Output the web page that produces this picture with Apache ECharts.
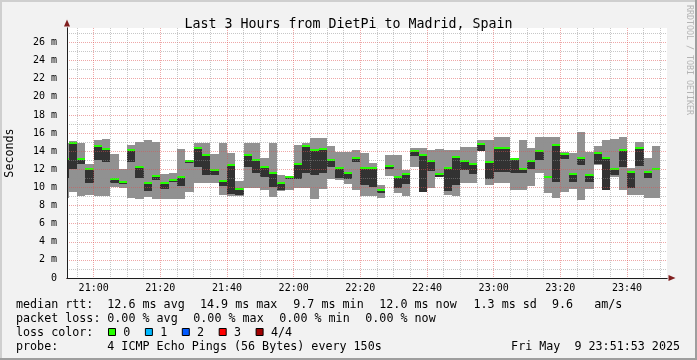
<!DOCTYPE html>
<html><head><meta charset="utf-8">
<script src="https://cdn.jsdelivr.net/npm/echarts@6/dist/echarts.min.js"></script>
<style>html,body{margin:0;padding:0;background:#f2f2f2}#c{width:697px;height:360px}</style>
</head><body><div id="c"></div>
<script>
// ---- data (step end times, 150 s steps) ----
const stepEnds = ['20:52:30','20:55:00','20:57:30','21:00:00','21:02:30','21:05:00','21:07:30','21:10:00','21:12:30','21:15:00','21:17:30','21:20:00',
'21:22:30','21:25:00','21:27:30','21:30:00','21:32:30','21:35:00','21:37:30','21:40:00','21:42:30','21:45:00','21:47:30','21:50:00',
'21:52:30','21:55:00','21:57:30','22:00:00','22:02:30','22:05:00','22:07:30','22:10:00','22:12:30','22:15:00','22:17:30','22:20:00',
'22:22:30','22:25:00','22:27:30','22:30:00','22:32:30','22:35:00','22:37:30','22:40:00','22:42:30','22:45:00','22:47:30','22:50:00',
'22:52:30','22:55:00','22:57:30','23:00:00','23:02:30','23:05:00','23:07:30','23:10:00','23:12:30','23:15:00','23:17:30','23:20:00',
'23:22:30','23:25:00','23:27:30','23:30:00','23:32:30','23:35:00','23:37:30','23:40:00','23:42:30','23:45:00','23:47:30','23:50:00'];
// values in ms
const rttMax = [14.9,15.1,14.9,12.6,15.2,15.35,13.7,12.0,14.7,15.0,15.2,15.0,
11.5,11.6,14.2,13.0,14.9,14.9,13.7,14.9,13.8,10.7,14.9,14.9,
13.2,14.9,11.4,11.2,14.7,14.9,15.5,15.5,14.6,13.95,13.9,14.1,
13.8,12.7,10.3,13.6,13.6,11.9,14.4,14.3,14.1,14.2,14.1,14.1,
14.5,14.5,15.2,15.2,15.6,15.6,13.3,15.2,14.3,15.6,15.6,15.6,
13.9,13.8,16.1,13.9,14.6,15.2,15.4,15.6,12.1,15.0,13.2,14.6];
const rttUpper = [13.1,14.9,13.1,12.0,14.6,14.2,10.9,10.6,14.1,12.2,10.5,11.3,
10.5,10.8,11.2,12.9,14.3,13.6,11.9,10.7,12.5,9.8,13.6,13.0,
12.2,11.6,10.5,11.1,12.6,14.6,14.1,14.2,13.0,12.1,11.6,13.2,
12.1,12.1,9.7,12.4,11.1,11.5,14.0,13.6,12.9,11.5,12.1,13.4,
12.9,12.6,14.8,12.8,14.3,14.4,13.1,12.0,12.9,14.0,11.2,14.7,
13.7,11.5,13.3,11.4,13.8,13.3,12.0,14.1,11.7,14.4,11.7,12.0];
const rttMedian = [13.1,14.95,13.1,12.0,14.6,14.2,10.9,10.6,14.1,12.2,10.5,11.3,
10.5,10.8,11.2,12.9,14.3,13.6,11.9,10.7,12.5,9.8,13.6,13.0,
12.2,11.6,10.5,11.1,12.6,14.6,14.1,14.2,13.0,12.1,11.6,13.2,
12.1,12.1,9.7,12.4,11.1,11.5,14.0,13.6,12.9,11.5,12.1,13.4,
12.9,12.6,14.8,12.8,14.3,14.4,13.1,12.0,12.9,14.0,11.2,14.7,
13.7,11.5,13.3,11.4,13.8,13.3,12.0,14.1,11.7,14.4,11.7,12.0];
const rttLower = [11.0,12.0,12.6,10.5,13.0,12.8,10.5,10.4,12.8,11.0,9.65,10.8,
9.8,10.6,10.2,12.7,12.3,11.4,11.4,10.2,9.25,9.2,12.2,11.6,
11.1,10.0,9.7,10.9,10.9,11.6,11.4,11.6,12.3,11.0,10.9,12.8,
10.3,10.1,9.4,12.0,9.9,10.4,13.5,9.5,11.8,11.2,9.6,10.3,
11.9,11.5,14.0,10.9,11.7,11.7,11.6,11.6,12.0,13.0,11.0,10.6,
13.1,10.6,12.5,10.6,12.6,9.7,11.4,12.3,9.9,12.4,11.0,11.9];
const rttMin = [8.8,9.5,9.1,9.2,9.1,9.1,10.0,9.9,8.8,8.7,8.9,8.7,
8.7,8.7,8.7,9.5,10.5,10.5,10.5,9.2,9.1,9.0,9.9,9.9,
9.7,8.9,9.6,9.7,9.9,9.9,8.7,9.8,10.9,10.8,10.4,9.7,
9.1,9.0,8.8,11.3,9.4,9.0,12.2,9.5,9.9,11.2,9.2,9.0,
10.5,10.5,14.0,10.3,10.5,10.5,9.7,9.7,10.2,11.6,9.4,8.8,
9.5,9.8,8.6,9.8,12.5,9.7,11.2,9.7,9.2,9.2,8.8,8.8];
const xTickLabels = ['21:00','21:20','21:40','22:00','22:20','22:40','23:00','23:20','23:40'];
const yTickLabels = [0,2,4,6,8,10,12,14,16,18,20,22,24,26];

// ---- helpers ----
const toMin = s => { const p = s.split(':').map(Number); return p[0]*60 + p[1] + (p[2]||0)/60; };
const fmtMin = v => { const h = Math.floor(v/60), m = Math.round(v - h*60); return String(h).padStart(2,'0') + ':' + String(m).padStart(2,'0'); };
const STEP = 2.5;
const X_MIN = toMin('20:52'), X_MAX = toMin('23:52');
const majorX = xTickLabels.map(toMin);
const minorX = [];
for (let v = Math.ceil(X_MIN/5)*5; v <= X_MAX; v += 5) if (majorX.indexOf(v) < 0) minorX.push(v);
const majorY = yTickLabels.filter(v => v > 0);
const minorY = yTickLabels.map(v => v + 1);
const MONO = '"DejaVu Sans Mono", monospace';

const C_SMOKE = '#919191', C_CORE = '#323232', C_MED = '#26ff00';

function bandSeries(lo, hi, color, z) {
  return {
    type: 'custom', z, silent: true, animation: false, clip: true,
    data: stepEnds.map((t, i) => [toMin(t), lo[i], hi[i]]),
    renderItem: (params, api) => {
      const t = api.value(0);
      const a = api.coord([t - STEP, api.value(2)]);
      const b = api.coord([t, api.value(1)]);
      const cs = params.coordSys;
      const x0 = Math.round(Math.max(a[0], cs.x)), x1 = Math.round(Math.min(b[0], cs.x + cs.width));
      const y0 = Math.round(a[1]), y1 = Math.round(b[1]);
      if (x1 <= x0) return null;
      return { type: 'rect', shape: { x: x0, y: y0, width: x1 - x0, height: Math.max(1, y1 - y0) }, style: { fill: color } };
    }
  };
}
function medianSeries() {
  return {
    type: 'custom', z: 4, silent: true, animation: false,
    data: stepEnds.map((t, i) => [toMin(t), rttMedian[i]]),
    renderItem: (params, api) => {
      const t = api.value(0);
      const a = api.coord([t - STEP, api.value(1)]);
      const b = api.coord([t, api.value(1)]);
      const cs = params.coordSys;
      const x0 = Math.round(Math.max(a[0], cs.x)), x1 = Math.round(Math.min(b[0], cs.x + cs.width));
      if (x1 <= x0) return null;
      return { type: 'rect', shape: { x: x0, y: Math.round(a[1]) - 1, width: x1 - x0, height: 2 }, style: { fill: C_MED } };
    }
  };
}

const legendY = [305, 318.5, 332.5, 346.5];
const txt = (x, y, s, extra) => Object.assign({ type: 'text', x, y, silent: true, z: 20,
  style: { text: s, font: '11.7px ' + MONO, fill: '#000', verticalAlign: 'middle', textVerticalAlign: 'middle' } }, extra || {});
const lossColors = [['0','#26ff00'],['1','#00b8ff'],['2','#0059ff'],['3','#ff0000'],['4/4','#a00000']];

const graphics = [
  { type: 'rect', shape: { x: 0, y: 0, width: 697, height: 2 }, style: { fill: '#cfcfcf' }, silent: true, z: 30 },
  { type: 'rect', shape: { x: 0, y: 0, width: 2, height: 360 }, style: { fill: '#cfcfcf' }, silent: true, z: 30 },
  { type: 'rect', shape: { x: 0, y: 358, width: 697, height: 2 }, style: { fill: '#9e9e9e' }, silent: true, z: 30 },
  { type: 'rect', shape: { x: 695, y: 0, width: 2, height: 360 }, style: { fill: '#9e9e9e' }, silent: true, z: 30 },
  { type: 'text', x: 689, y: 5, rotation: -Math.PI/2, silent: true, z: 20,
    style: { text: 'RRDTOOL / TOBI OETIKER', font: '8.3px ' + MONO, fill: '#b4b4b4', verticalAlign: 'middle', textVerticalAlign: 'middle' } },
  txt(16, legendY[0], 'median rtt:'),
  txt(107.3, legendY[0], '12.6 ms avg'),
  txt(200, legendY[0], '14.9 ms max'),
  txt(293.3, legendY[0], '9.7 ms min'),
  txt(379.3, legendY[0], '12.0 ms now'),
  txt(473.5, legendY[0], '1.3 ms sd'),
  txt(552, legendY[0], '9.6   am/s'),
  txt(16, legendY[1], 'packet loss:'),
  txt(107.3, legendY[1], '0.00 % avg'),
  txt(193.3, legendY[1], '0.00 % max'),
  txt(279.3, legendY[1], '0.00 % min'),
  txt(365.3, legendY[1], '0.00 % now'),
  txt(16, legendY[2], 'loss color:'),
  txt(16, legendY[3], 'probe:'),
  txt(107.3, legendY[3], '4 ICMP Echo Pings (56 Bytes) every 150s'),
  txt(680, legendY[3], 'Fri May  9 23:51:53 2025', { style: { text: 'Fri May  9 23:51:53 2025', font: '11.7px ' + MONO, fill: '#000', align: 'right', textAlign: 'right', verticalAlign: 'middle', textVerticalAlign: 'middle' } })
];
lossColors.forEach((lc, i) => {
  const bx = 108.5 + i * 36.9;
  graphics.push({ type: 'rect', shape: { x: bx, y: 328.5, width: 7, height: 7 }, style: { fill: lc[1], stroke: '#000', lineWidth: 1 }, silent: true, z: 20 });
  graphics.push(txt(bx + 14.8, legendY[2], lc[0]));
});

const chart = echarts.init(document.getElementById('c'), null, { renderer: 'canvas' });
chart.setOption({
  backgroundColor: '#f2f2f2',
  animation: false,
  title: { text: 'Last 3 Hours from DietPi to Madrid, Spain', left: 'center', top: 12,
    textStyle: { fontFamily: MONO, fontSize: 13.3, fontWeight: 'normal', color: '#000', lineHeight: 15 } },
  grid: { left: 67, top: 28, width: 600, height: 250, show: true, backgroundColor: '#ffffff', borderWidth: 0,
    containLabel: false, outerBoundsMode: 'none' },
  xAxis: [
    { type: 'value', min: X_MIN, max: X_MAX, z: 11, position: 'bottom',
      axisLine: { show: true, onZero: false, lineStyle: { color: '#1f1f1f', width: 1 } },
      axisTick: { show: false, customValues: minorX },
      axisLabel: { customValues: majorX, formatter: v => fmtMin(v), margin: 5, fontFamily: MONO, fontSize: 10, color: '#000' },
      splitLine: { show: true, lineStyle: { color: 'rgba(143,143,143,0.5)', width: 1, type: [1, 1] } } },
    { type: 'value', min: X_MIN, max: X_MAX, z: 10, position: 'bottom',
      axisLine: { show: true, onZero: false, lineStyle: { color: '#801f1f', width: 1 }, symbol: ['none', 'triangle'], symbolSize: [6, 7], symbolOffset: [0, 5] },
      axisTick: { show: false, customValues: majorX },
      axisLabel: { show: false },
      splitLine: { show: true, lineStyle: { color: 'rgba(222,79,79,0.5)', width: 1, type: [1, 1] } } }
  ],
  yAxis: [
    { type: 'value', min: 0, max: 27.6, z: 11, position: 'left',
      name: 'Seconds', nameLocation: 'middle', nameGap: 51, nameRotate: 90,
      nameTextStyle: { fontFamily: MONO, fontSize: 11.7, color: '#000' },
      axisLine: { show: true, onZero: false, lineStyle: { color: '#1f1f1f', width: 1 } },
      axisTick: { show: false, customValues: minorY },
      axisLabel: { customValues: yTickLabels, formatter: v => v === 0 ? '0' : v + ' m', margin: 10, fontFamily: MONO, fontSize: 10, color: '#000' },
      splitLine: { show: true, lineStyle: { color: 'rgba(143,143,143,0.5)', width: 1, type: [1, 1] } } },
    { type: 'value', min: 0, max: 27.6, z: 10, position: 'left',
      axisLine: { show: true, onZero: false, lineStyle: { color: '#801f1f', width: 1 }, symbol: ['none', 'triangle'], symbolSize: [6, 7], symbolOffset: [0, 5] },
      axisTick: { show: false, customValues: majorY },
      axisLabel: { show: false },
      splitLine: { show: true, lineStyle: { color: 'rgba(222,79,79,0.5)', width: 1, type: [1, 1] } } }
  ],
  series: [
    bandSeries(rttMin, rttMax, C_SMOKE, 2),
    bandSeries(rttLower, rttUpper, C_CORE, 3),
    medianSeries()
  ],
  graphic: { elements: graphics }
});
</script>
</body></html>
